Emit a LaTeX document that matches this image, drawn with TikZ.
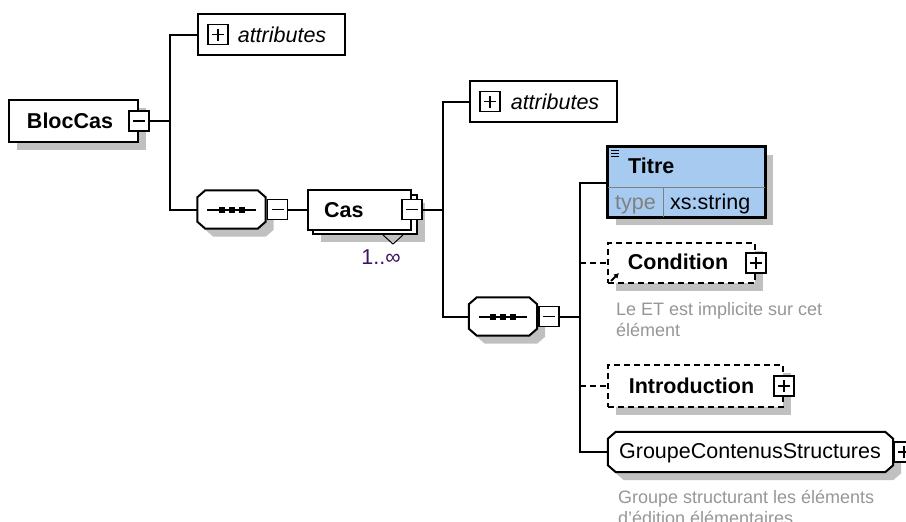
\documentclass[tikz,border=0pt]{standalone}
\usepackage{fontspec}
\setmainfont{Liberation Sans}
\usetikzlibrary{positioning,shadows,arrows.meta}

\definecolor{shadowgray}{RGB}{192,192,192}
\definecolor{titreblue}{RGB}{166,202,240}
\definecolor{notegray}{RGB}{150,150,150}
\definecolor{multpurple}{RGB}{60,20,100}

\newcommand{\mainsize}{\fontsize{21.5pt}{25pt}\selectfont}
\newcommand{\notesize}{\fontsize{18pt}{21pt}\selectfont}
% octagon round a named node
\newcommand{\octpath}[1]{([xshift=8pt]#1.north west) -- ([xshift=-8pt]#1.north east) -- ([yshift=-7pt]#1.north east) -- ([yshift=7pt]#1.south east) -- ([xshift=-8pt]#1.south east) -- ([xshift=8pt]#1.south west) -- ([yshift=7pt]#1.south west) -- ([yshift=-7pt]#1.north west) -- cycle}

\begin{document}
\begin{tikzpicture}[x=1pt,y=-1pt,
    wire/.style={line width=2pt},
    optwire/.style={line width=2pt,dash pattern=on 6pt off 4pt},
    boxshadow/.style={drop shadow={shadow xshift=8pt,shadow yshift=-8pt,fill=shadowgray,opacity=1}},
    attrbox/.style={draw,fill=white,line width=2pt,inner sep=0pt,minimum width=147pt,minimum height=41pt},
    elem/.style={draw,fill=white,line width=2pt,inner sep=0pt,boxshadow},
    optelem/.style={elem,dash pattern=on 6pt off 4pt},
    octnode/.style={inner sep=0pt},
    octshadow/.style={fill=shadowgray,transform canvas={shift={(8pt,-8pt)}}},
    pmbox/.style={draw,fill=white,line width=1.6pt,minimum size=20pt,inner sep=0pt},
    minusbox/.style={pmbox,path picture={\draw[line width=1.6pt] ([xshift=4pt]path picture bounding box.west) -- ([xshift=-4pt]path picture bounding box.east);}},
    plusbox/.style={pmbox,path picture={\draw[line width=1.6pt] ([xshift=4pt]path picture bounding box.west) -- ([xshift=-4pt]path picture bounding box.east) ([yshift=-4pt]path picture bounding box.north) -- ([yshift=4pt]path picture bounding box.south);}},
    lbl/.style={inner sep=0pt,font=\mainsize,text height=15.5pt,text depth=0pt},
    note/.style={inner sep=0pt,font=\notesize,text=notegray,align=left}
  ]
  \useasboundingbox (0,0) rectangle (906,522);

  % BlocCas and its attributes
  \node[elem,minimum width=129pt,minimum height=42pt] (bloccas) at (73.5,121) {};
  \node[lbl,font=\mainsize\bfseries] (bloccastxt) at (70,121) {BlocCas};
  \node[minusbox] (bloccasm) at (bloccas.east) {};

  \node[attrbox] (attr1) at (271.5,34.5) {};
  \node[plusbox,right=10pt of attr1.west] (attr1p) {};
  \node[lbl,font=\mainsize\itshape,right=9pt of attr1p.east] (attr1txt) {attributes};

  % first sequence
  \node[octnode,minimum width=68pt,minimum height=38pt] (seq1) at (231.5,209.5) {};
  \fill[octshadow] \octpath{seq1};
  \draw[wire,fill=white] \octpath{seq1};
  \draw[wire] ([xshift=10pt]seq1.west) -- ([xshift=-10pt]seq1.east);
  \foreach \dx in {-10,0,10}
    \fill ([xshift=\dx pt]seq1.center) +(-3,-3) rectangle +(3,3);
  \node[minusbox,anchor=west] (seq1m) at ([xshift=1pt]seq1.east) {};

  % Cas
  \node[elem,minimum width=104pt,minimum height=39pt] (casback) at (365,214.5) {};
  \node[draw,fill=white,line width=2pt,minimum width=103pt,minimum height=40pt,inner sep=0pt] (cas) at (359.5,209.5) {};
  \node[lbl,font=\mainsize\bfseries,right=17pt of cas.west] (castxt) {Cas};
  \node[minusbox] (casm) at (cas.east) {};
  \draw[line width=1pt] ([xshift=-35pt]casback.south east) -- ++(10,9) -- ++(10,-9);
  \node[lbl,text=multpurple] (casmult) at (381,257) {1..∞};

  \draw[wire] (bloccasm.east) -- ++(20,0) coordinate (bus1);
  \draw[wire] (bus1) |- (attr1.west);
  \draw[wire] (bus1) |- (seq1.west);
  \draw[wire] (seq1m.east) -- (seq1m.east -| cas.west);

  % content of Cas
  \node[attrbox] (attr2) at (543.5,101.5) {};
  \node[plusbox,right=10pt of attr2.west] (attr2p) {};
  \node[lbl,font=\mainsize\itshape,right=10pt of attr2p.east] (attr2txt) {attributes};

  \node[octnode,minimum width=68pt,minimum height=38pt] (seq2) at (503,316.5) {};
  \fill[octshadow] \octpath{seq2};
  \draw[wire,fill=white] \octpath{seq2};
  \draw[wire] ([xshift=10pt]seq2.west) -- ([xshift=-10pt]seq2.east);
  \foreach \dx in {-10,0,10}
    \fill ([xshift=\dx pt]seq2.center) +(-3,-3) rectangle +(3,3);
  \node[minusbox,anchor=west] (seq2m) at ([xshift=1pt]seq2.east) {};

  \draw[wire] (casm.east) -- ++(20,0) coordinate (bus2);
  \draw[wire] (bus2) |- (attr2.west);
  \draw[wire] (bus2) |- (seq2.west);

  % Titre
  \node[elem,fill=titreblue,line width=2pt,minimum width=157pt,minimum height=70pt] (titre) at (686.5,182) {};
  \draw[gray,line width=1pt] ([yshift=-5pt]titre.west) -- ([yshift=-5pt]titre.east);
  \draw[gray,line width=1pt] ([xshift=56pt]titre.south west) -- ++(0,-30);
  \draw[line width=2pt] (titre.north west) rectangle (titre.south east);
  \foreach \yy in {150,153,156}
    \draw[line width=1pt] (611,\yy) -- (619,\yy);
  \node[lbl,font=\mainsize\bfseries,anchor=west] (titretxt) at (628,166) {Titre};
  \node[lbl,text=gray,anchor=west] (titretype) at (615,202) {type};
  \node[lbl,anchor=west] (titrexs) at (670,202) {xs:string};

  % Condition
  \node[optelem,minimum width=147pt,minimum height=40pt] (cond) at (681.5,263) {};
  \node[lbl,font=\mainsize\bfseries] (condtxt) at (678,262) {Condition};
  \node[plusbox] (condp) at (cond.east) {};
  \draw[line width=2pt,-{Latex[length=5pt,width=6pt]}] (611,281) -- (619,273);
  \node[note,below right=18pt and 9pt of cond.south west] (condnote) {Le ET est implicite sur cet\\élément};

  % Introduction
  \node[optelem,minimum width=175pt,minimum height=42pt] (intro) at (695.5,386) {};
  \node[lbl,font=\mainsize\bfseries] (introtxt) at (691.5,386) {Introduction};
  \node[plusbox] (introp) at (intro.east) {};

  % GroupeContenusStructures
  \node[octnode,minimum width=285pt,minimum height=40pt] (groupe) at (750.5,452) {};
  \fill[octshadow] \octpath{groupe};
  \draw[wire,fill=white] \octpath{groupe};
  \node[lbl] (groupetxt) at (750,451) {GroupeContenusStructures};
  \node[plusbox,anchor=west] (groupep) at (groupe.east) {};
  \node[note,below right=18pt and 10pt of groupe.south west] (groupenote) {Groupe structurant les éléments\\d'édition élémentaires};

  \draw[wire] (seq2m.east) -- ++(20,0) coordinate (bus3);
  \draw[wire] (bus3) |- ([yshift=-1pt]titre.west);
  \draw[wire] (bus3) |- (groupe.west);
  \draw[optwire] (bus3 |- cond.west) -- (cond.west);
  \draw[optwire] (bus3 |- intro.west) -- (intro.west);
\end{tikzpicture}
\end{document}
